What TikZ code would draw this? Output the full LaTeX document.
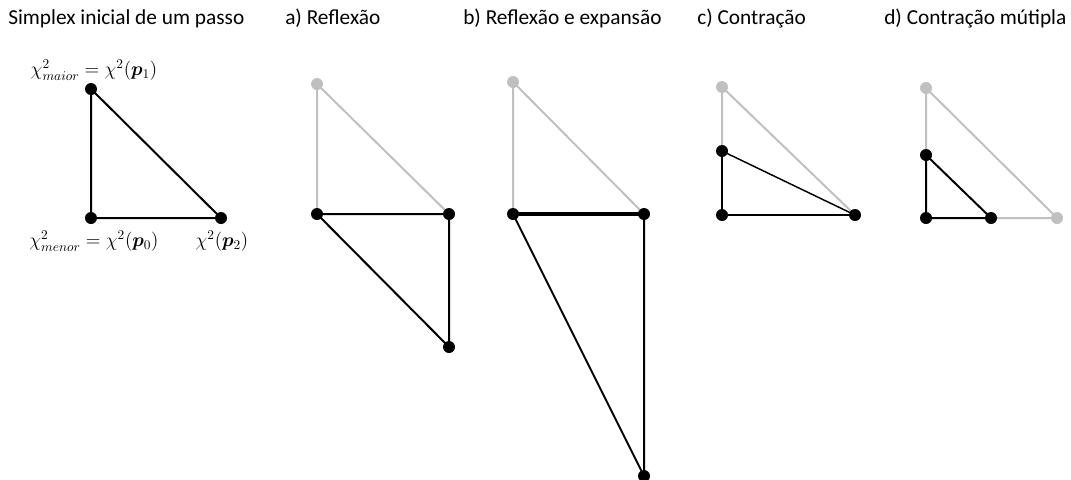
\documentclass[tikz,border=0pt]{standalone}
\usepackage{fontspec}
\setmainfont{Carlito}
\usepackage{amsmath}
\usepackage{bm}
\usetikzlibrary{backgrounds}
\definecolor{lgrey}{RGB}{192,192,192}
\tikzset{
  dot/.style={circle,fill=black,inner sep=0pt,minimum size=9pt},
  gdot/.style={circle,fill=lgrey,inner sep=0pt,minimum size=9pt},
  bl/.style={draw=black,line width=1.5pt},
  blt/.style={draw=black,line width=1.1pt},
  bk/.style={draw=black,line width=2.4pt},
  gl/.style={draw=lgrey,line width=1.5pt},
  title/.style={anchor=base west,inner sep=0pt,font=\fontsize{16pt}{19pt}\selectfont},
  mlab/.style={inner sep=0pt,font=\fontsize{14pt}{16pt}\selectfont}
}
\begin{document}
\begin{tikzpicture}[x=0.75pt,y=-0.75pt]
\useasboundingbox (0,0) rectangle (1071,479);
\clip (0,0) rectangle (1071,479);
% titles
\node[title] (t0) at (8,24) {Simplex inicial de um passo};
\node[title] (t1) at (285,24) {a) Reflexão};
\node[title] (t2) at (463,24) {b) Reflexão e expansão};
\node[title] (t3) at (697,24) {c) Contração};
\node[title] (t4) at (884,24) {d) Contração mútipla};
% initial simplex
\node[dot] (p1) at (91,89) {};
\node[dot] (p0) at (91,218) {};
\node[dot] (p2) at (221,218) {};
\node[mlab] (l1) at (94,70) {$\chi^2_{maior}=\chi^2(\bm{p}_1)$};
\node[mlab] (l0) at (94,241) {$\chi^2_{menor}=\chi^2(\bm{p}_0)$};
\node[mlab] (l2) at (222,241) {$\chi^2(\bm{p}_2)$};
% a
\node[gdot] (a1) at (317,84) {};
\node[dot] (a0) at (317,214) {};
\node[dot] (a2) at (449,214) {};
\node[dot] (a3) at (449,347) {};
% b
\node[gdot] (b1) at (513,82) {};
\node[dot] (b0) at (513,214) {};
\node[dot] (b2) at (644,214) {};
\node[dot] (b3) at (644,476) {};
% c
\node[gdot] (c1) at (722,87) {};
\node[dot] (c3) at (722,151) {};
\node[dot] (c0) at (722,215) {};
\node[dot] (c2) at (855,215) {};
% d
\node[gdot] (d1) at (926,88) {};
\node[dot] (d3) at (926,155) {};
\node[dot] (d0) at (926,218) {};
\node[dot] (d4) at (991,218) {};
\node[gdot] (d2) at (1057,218) {};
\begin{scope}[on background layer]
\draw[bl] (p1.center) -- (p0.center) -- (p2.center) -- (p1.center);
% a
\draw[gl] (a0.center) -- (a1.center) -- (a2.center);
\draw[bl] (a0.center) -- (a2.center) -- (a3.center) -- (a0.center);
% b
\draw[gl] (b0.center) -- (b1.center) -- (b2.center);
\draw[bk] (b0.center) -- (b2.center);
\draw[bl] (b2.center) -- (b3.center) -- (b0.center);
% c
\draw[gl] (c3.center) -- (c1.center) -- (c2.center);
\draw[bl] (c3.center) -- (c0.center) -- (c2.center);
\draw[blt] (c3.center) -- (c2.center);
% d
\draw[gl] (d3.center) -- (d1.center) -- (d2.center) -- (d4.center);
\draw[bl] (d3.center) -- (d0.center) -- (d4.center) -- (d3.center);
\end{scope}
\end{tikzpicture}
\end{document}
